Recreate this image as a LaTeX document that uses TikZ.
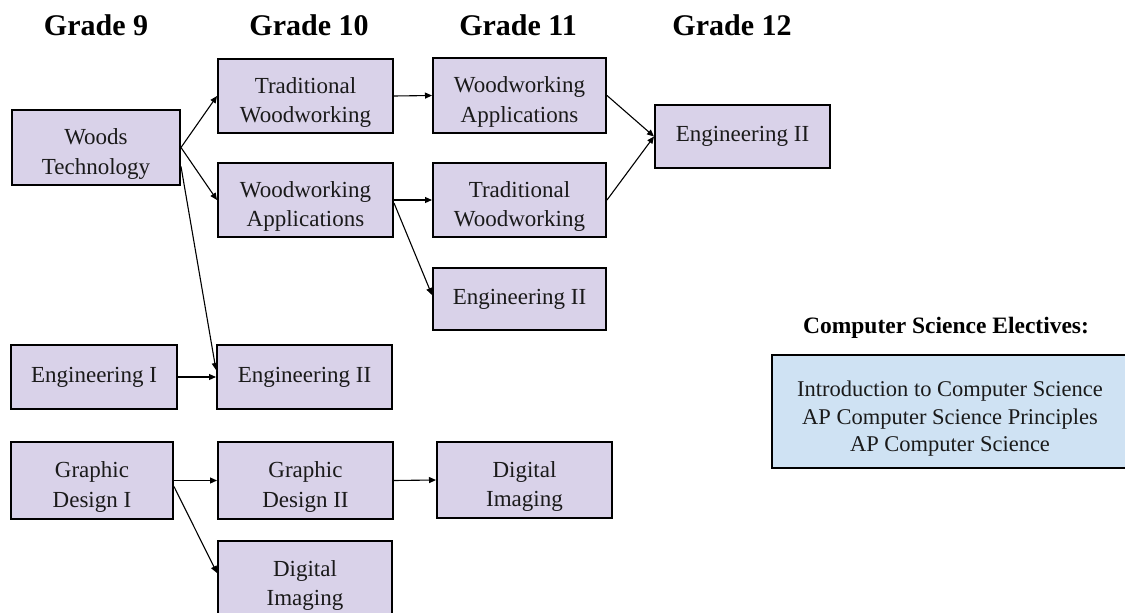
\documentclass[tikz,border=0pt]{standalone}
\usepackage{fontspec}
\setmainfont{Liberation Serif}
\usetikzlibrary{arrows.meta}
\definecolor{lav}{HTML}{D9D2E9}
\definecolor{lblue}{HTML}{CFE2F3}
\definecolor{ink}{HTML}{1A1A1A}
\newcommand{\twoline}[2]{\raisebox{-6pt}[\height][\depth]{\begin{tabular}{@{}c@{}}#1\\#2\end{tabular}}}
\tikzset{
  course/.style={draw=black, line width=2pt, fill=lav, align=center, inner sep=0pt,
    text=ink, font=\fontsize{23}{29.5}\selectfont},
  heading/.style={anchor=base, font=\fontsize{30}{34}\selectfont\bfseries},
  conn/.style={draw=black, line width=1.1pt, -{Triangle[length=7pt,width=6pt]}},
}
\begin{document}
\begin{tikzpicture}[x=1pt,y=-1pt]
\useasboundingbox (0,0) rectangle (1125,613);
\clip (0,0) rectangle (1125,613);
\fill[white] (0,0) rectangle (1125,613);
% headings
\node[heading] (h9)  at (96,35)  {Grade 9};
\node[heading] (h10) at (309,35) {Grade 10};
\node[heading] (h11) at (518,35) {Grade 11};
\node[heading] (h12) at (732,35) {Grade 12};
% grade 9
\node[course, minimum width=168pt, minimum height=75pt] (wt) at (96,147.5) {\twoline{Woods}{Technology}};
\node[course, minimum width=166pt, minimum height=64pt] (e1) at (94,377) {Engineering I};
\node[course, minimum width=162pt, minimum height=77pt] (gd1) at (92,480.5) {\twoline{Graphic}{Design I}};
% grade 10
\node[course, minimum width=175pt, minimum height=74pt] (tw10) at (305.5,96) {\twoline{Traditional}{Woodworking}};
\node[course, minimum width=175pt, minimum height=74pt] (wa10) at (305.5,200) {\twoline{Woodworking}{Applications}};
\node[course, minimum width=175pt, minimum height=64pt] (e210) at (304.5,377) {Engineering II};
\node[course, minimum width=175pt, minimum height=77pt] (gd2) at (305.5,480.5) {\twoline{Graphic}{Design II}};
\node[course, minimum width=174pt, minimum height=76pt] (di10) at (305,579) {\twoline{Digital}{Imaging}};
% grade 11
\node[course, minimum width=173pt, minimum height=75pt] (wa11) at (519.5,95.5) {\twoline{Woodworking}{Applications}};
\node[course, minimum width=173pt, minimum height=74pt] (tw11) at (519.5,200) {\twoline{Traditional}{Woodworking}};
\node[course, minimum width=173pt, minimum height=62pt] (e211) at (519.5,299) {Engineering II};
\node[course, minimum width=175pt, minimum height=76pt] (di11) at (524.5,480) {\twoline{Digital}{Imaging}};
% grade 12
\node[course, minimum width=175pt, minimum height=63pt] (e212) at (742.5,136.5) {Engineering II};
% CS electives
\node[anchor=base, font=\fontsize{23.5}{26}\selectfont\bfseries] (csh) at (946,333) {Computer Science Electives:};
\node[draw=black, line width=2pt, fill=lblue, align=center, inner sep=0pt, text=ink,
  minimum width=356pt, minimum height=113pt, font=\fontsize{22.5}{27.5}\selectfont] (cs) at (950,411.5)
  {\raisebox{-7pt}[\height][\depth]{\begin{tabular}{@{}c@{}}Introduction to Computer Science\\AP Computer Science Principles\\AP Computer Science\end{tabular}}};
% connectors
\draw[conn] (wt.east) -- (tw10.west);
\draw[conn] (wt.east) -- (wa10.west);
\draw[conn] ([yshift=-19pt]wt.east) -- ([yshift=7pt]e210.west);
\draw[conn] (e1.east) -- (e210.west);
\draw[conn] (tw10.east) -- (wa11.west);
\draw[conn] (wa10.east) -- (tw11.west);
\draw[conn] ([yshift=-3pt]wa10.east) -- ([yshift=4pt]e211.west);
\draw[conn] (wa11.east) -- (e212.west);
\draw[conn] (tw11.east) -- (e212.west);
\draw[conn] (gd1.east) -- (gd2.west);
\draw[conn] ([yshift=-6pt]gd1.east) -- ([yshift=6pt]di10.west);
\draw[conn] (gd2.east) -- (di11.west);
\end{tikzpicture}
\end{document}
